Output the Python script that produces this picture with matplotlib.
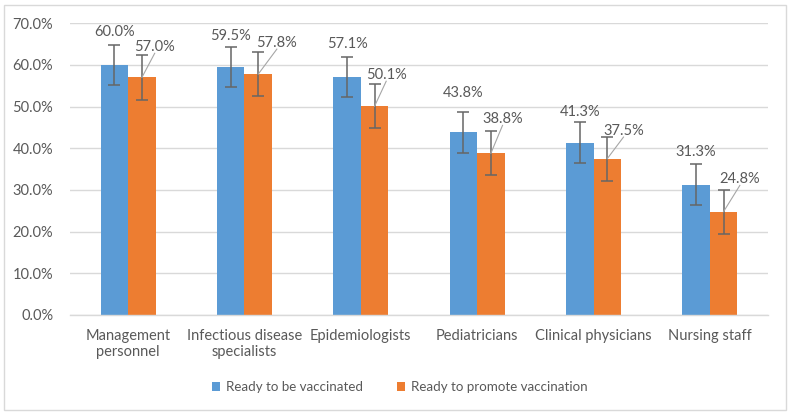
import matplotlib.pyplot as plt
import numpy as np
from matplotlib.patches import Rectangle

plt.rcParams['font.family'] = ['Lato', 'DejaVu Sans']

categories = ['Management\npersonnel', 'Infectious disease\nspecialists', 'Epidemiologists',
              'Pediatricians', 'Clinical physicians', 'Nursing staff']
vaccinated = [60.0, 59.5, 57.1, 43.8, 41.3, 31.3]
promote = [57.0, 57.8, 50.1, 38.8, 37.5, 24.8]
err_vacc = [4.9, 4.8, 4.9, 4.9, 4.9, 4.9]
err_prom = [5.3, 5.3, 5.3, 5.3, 5.3, 5.3]

# label placement
vacc_label_y = [67.9, 67.0, 65.0, 53.3, 48.7, 39.1]
prom_label_y = [64.3, 65.3, 57.6, 47.0, 44.2, 32.6]
prom_label_dx = [0.11, 0.16, 0.10, 0.10, 0.14, 0.14]

blue = '#5B9BD5'
orange = '#ED7D31'
txt = '#595959'
grid = '#D9D9D9'

fig = plt.figure(figsize=(7.95, 4.18), dpi=100)
ax = fig.add_axes([70 / 795, 1 - 315 / 418, 698 / 795, 291.7 / 418])

x = np.arange(len(categories))
w = 0.236
xb = x - w / 2
xo = x + w / 2
ax.bar(xb, vaccinated, w, color=blue, label='Ready to be vaccinated', zorder=2)
ax.bar(xo, promote, w, color=orange, label='Ready to promote vaccination', zorder=2)
ax.errorbar(xb, vaccinated, yerr=err_vacc, fmt='none', ecolor='#666666', elinewidth=1.1,
            capsize=4, capthick=1.1, zorder=3)
ax.errorbar(xo, promote, yerr=err_prom, fmt='none', ecolor='#666666', elinewidth=1.1,
            capsize=4, capthick=1.1, zorder=3)

for i in range(len(categories)):
    ax.text(xb[i], vacc_label_y[i], '%.1f%%' % vaccinated[i], ha='center', va='center',
            fontsize=10.5, color=txt, zorder=4)
    lx = xo[i] + prom_label_dx[i]
    ax.text(lx, prom_label_y[i], '%.1f%%' % promote[i], ha='center', va='center',
            fontsize=10.5, color=txt, zorder=4)
    ax.plot([xo[i], lx], [promote[i], prom_label_y[i] - 1.5], color='#A6A6A6', lw=0.8, zorder=4)

ax.set_xlim(-0.5, len(categories) - 0.5)
ax.set_ylim(0, 70)
ax.set_yticks(np.arange(0, 71, 10))
ax.set_yticklabels(['%.1f%%' % v for v in np.arange(0, 71, 10)])
ax.set_xticks(x)
ax.set_xticklabels(categories)
ax.tick_params(axis='both', length=0, labelsize=10.5, colors=txt)
ax.tick_params(axis='x', pad=10)
ax.tick_params(axis='y', pad=12)
ax.yaxis.grid(True, color=grid, lw=1, zorder=0)
ax.set_axisbelow(True)
for s in ['top', 'right', 'left']:
    ax.spines[s].set_visible(False)
ax.spines['bottom'].set_color(grid)
ax.spines['bottom'].set_linewidth(1)

leg = fig.legend(loc='center', bbox_to_anchor=(0.503, 1 - 387 / 418), ncol=2, frameon=False,
                 fontsize=9.6, handlelength=0.6, handleheight=0.6, handletextpad=0.4,
                 columnspacing=2.6)
for t in leg.get_texts():
    t.set_color(txt)

fig.patches.append(Rectangle((4 / 795, 1 - 410 / 418), 782 / 795, 405 / 418,
                             transform=fig.transFigure, fill=False, edgecolor=grid, lw=1))

fig.savefig('out.png', dpi=100)
